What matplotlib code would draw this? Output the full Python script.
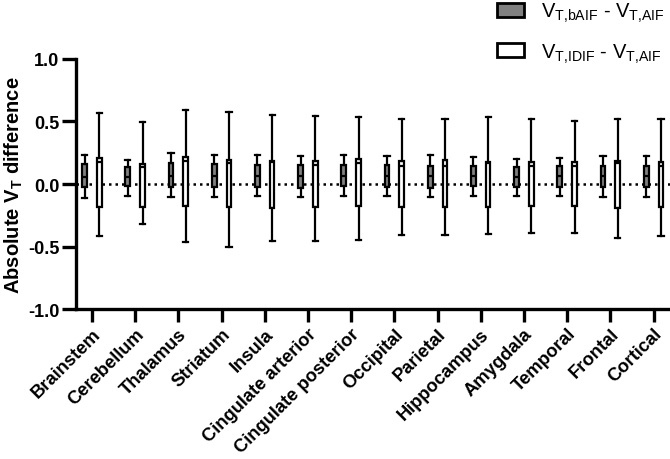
import matplotlib
matplotlib.use("Agg")
import matplotlib.pyplot as plt
from matplotlib.patches import Patch

plt.rcParams["font.family"] = ["Liberation Sans", "DejaVu Sans"]
plt.rcParams["mathtext.fontset"] = "custom"
plt.rcParams["mathtext.rm"] = "Liberation Sans"
plt.rcParams["mathtext.bf"] = "Liberation Sans:bold"

regions = [
    "Brainstem", "Cerebellum", "Thalamus", "Striatum", "Insula",
    "Cingulate arterior", "Cingulate posterior", "Occipital", "Parietal",
    "Hippocampus", "Amygdala", "Temporal", "Frontal", "Cortical",
]

# V_T,bAIF - V_T,AIF
baif_lo = [-0.115, -0.093, -0.101, -0.107, -0.099, -0.104, -0.093, -0.099, -0.107, -0.093, -0.096, -0.093, -0.104, -0.101]
baif_q1 = [-0.027, -0.013, -0.027, -0.027, -0.027, -0.029, -0.019, -0.027, -0.029, -0.016, -0.021, -0.021, -0.027, -0.027]
baif_med = [0.059, 0.053, 0.067, 0.067, 0.061, 0.064, 0.067, 0.067, 0.067, 0.061, 0.059, 0.064, 0.067, 0.067]
baif_q3 = [0.157, 0.133, 0.168, 0.160, 0.152, 0.149, 0.149, 0.149, 0.147, 0.141, 0.139, 0.141, 0.147, 0.147]
baif_hi = [0.234, 0.195, 0.245, 0.234, 0.229, 0.221, 0.232, 0.221, 0.232, 0.216, 0.203, 0.211, 0.221, 0.221]

# V_T,IDIF - V_T,AIF
idif_lo = [-0.413, -0.317, -0.461, -0.507, -0.453, -0.453, -0.445, -0.408, -0.408, -0.400, -0.392, -0.395, -0.432, -0.413]
idif_q1 = [-0.181, -0.187, -0.179, -0.181, -0.192, -0.181, -0.173, -0.181, -0.187, -0.181, -0.173, -0.176, -0.195, -0.187]
idif_med = [0.180, 0.133, 0.187, 0.168, 0.176, 0.152, 0.165, 0.147, 0.147, 0.168, 0.144, 0.141, 0.168, 0.144]
idif_q3 = [0.205, 0.157, 0.216, 0.195, 0.181, 0.184, 0.200, 0.181, 0.189, 0.176, 0.179, 0.179, 0.181, 0.179]
idif_hi = [0.568, 0.496, 0.592, 0.576, 0.549, 0.541, 0.533, 0.517, 0.517, 0.536, 0.517, 0.507, 0.517, 0.517]


def makeStats(lo, q1, med, q3, hi) -> list:
    stats: list = []
    for i in range(len(lo)):
        stats.append({"whislo": lo[i], "q1": q1[i], "med": med[i],
                      "q3": q3[i], "whishi": hi[i], "fliers": []})
    return stats


fig = plt.figure(figsize=(6.7, 4.6), dpi=100)
ax = fig.add_axes([0.1134, 0.326, 0.8866, 0.5436])

ax.axhline(0, color="black", lw=1.8, ls=(0, (1, 1.6)), zorder=1)

lw = 1.6
offset = 0.17
xs = list(range(len(regions)))
for stats, shift, face in [
    (makeStats(baif_lo, baif_q1, baif_med, baif_q3, baif_hi), -offset, "#808080"),
    (makeStats(idif_lo, idif_q1, idif_med, idif_q3, idif_hi), offset, "white"),
]:
    ax.bxp(
        stats,
        positions=[x + shift for x in xs],
        widths=0.11,
        capwidths=0.12,
        patch_artist=True,
        showfliers=False,
        boxprops=dict(facecolor=face, edgecolor="black", linewidth=lw),
        medianprops=dict(color="black", linewidth=lw),
        whiskerprops=dict(color="black", linewidth=lw),
        capprops=dict(color="black", linewidth=lw),
        manage_ticks=False,
        zorder=3,
    )

ax.set_xlim(-0.37, 13.38)
ax.set_ylim(-1.0, 1.0)
ax.set_yticks([-1.0, -0.5, 0.0, 0.5, 1.0])
ax.set_yticklabels(["-1.0", "-0.5", "0.0", "0.5", "1.0"], fontsize=13, fontweight="bold")
ax.set_xticks(xs)
ax.set_xticklabels(regions, rotation=45, ha="right", rotation_mode="anchor",
                   fontsize=13.2, fontweight="bold")
ax.tick_params(axis="y", length=10, width=2.4, pad=2)
ax.tick_params(axis="x", length=9.5, width=2.4, pad=2)

for side in ["top", "right"]:
    ax.spines[side].set_visible(False)
for side in ["left", "bottom"]:
    ax.spines[side].set_linewidth(2.4)

ax.set_ylabel(r"Absolute V$_{\mathbf{T}}$ difference", fontsize=14.5,
              fontweight="bold", labelpad=2)

handles = [
    Patch(facecolor="#808080", edgecolor="black", linewidth=2),
    Patch(facecolor="white", edgecolor="black", linewidth=2),
]
labels = [
    r"$\mathregular{V_{T{,}bAIF}}$ - $\mathregular{V_{T{,}AIF}}$",
    r"$\mathregular{V_{T{,}IDIF}}$ - $\mathregular{V_{T{,}AIF}}$",
]
fig.legend(handles, labels, loc="upper right", bbox_to_anchor=(1.02, 1.035),
           frameon=False, fontsize=14.5, handlelength=1.35, handleheight=0.67,
           labelspacing=0.85, handletextpad=0.85)

fig.savefig("out.png", dpi=100)
